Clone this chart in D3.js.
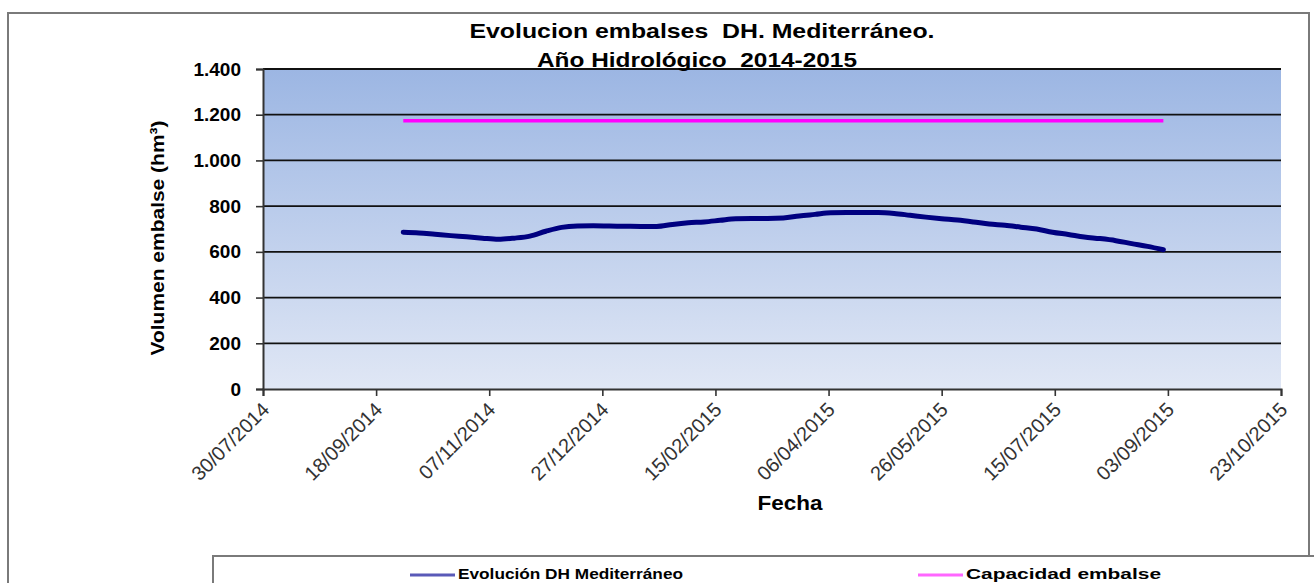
<!DOCTYPE html>
<html>
<head>
<meta charset="utf-8">
<script src="https://cdn.jsdelivr.net/npm/d3@7"></script>
<style>
  body { margin: 0; background: #fff; }
  svg { display: block; font-family: 'Liberation Sans', Arial, sans-serif; }
</style>
</head>
<body>
<svg id="chart" width="1314" height="583"></svg>
<script>
// weekly reservoir volume (hm3), hydrological year 2014-2015
let fechas = ['30/09/2014', '07/10/2014', '14/10/2014', '21/10/2014', '28/10/2014', '04/11/2014',
    '11/11/2014', '18/11/2014', '25/11/2014', '02/12/2014', '09/12/2014', '16/12/2014', '23/12/2014',
    '30/12/2014', '06/01/2015', '13/01/2015', '20/01/2015', '27/01/2015', '03/02/2015', '10/02/2015',
    '17/02/2015', '24/02/2015', '03/03/2015', '10/03/2015', '17/03/2015', '24/03/2015', '31/03/2015',
    '07/04/2015', '14/04/2015', '21/04/2015', '28/04/2015', '05/05/2015', '12/05/2015', '19/05/2015',
    '26/05/2015', '02/06/2015', '09/06/2015', '16/06/2015', '23/06/2015', '30/06/2015', '07/07/2015',
    '14/07/2015', '21/07/2015', '28/07/2015', '04/08/2015', '11/08/2015', '18/08/2015', '25/08/2015',
    '01/09/2015']
let volumen = [686, 683, 677, 671, 666, 660,
    655, 660, 669, 690, 707, 713, 714,
    713, 712, 711, 711, 720, 727, 731,
    738, 745, 746, 746, 748, 757, 764,
    771, 772, 772, 772, 768, 760, 752,
    745, 739, 731, 722, 716, 708, 700,
    686, 676, 665, 658, 649, 636, 624,
    609]
let capacidad = [1174, 1174]
let capacidadFechas = ['30/09/2014', '01/09/2015']

let xTicks = ['30/07/2014', '18/09/2014', '07/11/2014', '27/12/2014', '15/02/2015',
    '06/04/2015', '26/05/2015', '15/07/2015', '03/09/2015', '23/10/2015']
let yTicks = [0, 200, 400, 600, 800, 1000, 1200, 1400]

let parse = d3.timeParse('%d/%m/%Y')
let fmt = d3.formatLocale({ decimal: ',', thousands: '.', grouping: [3], currency: ['', ''] }).format(',d')

let chart = d3.select('#chart')
let plotLeft = 263
let plotRight = 1281
let plotTop = 69
let plotBottom = 389

let xScale = d3.scaleTime()
    .domain([parse(xTicks[0]), parse(xTicks[xTicks.length - 1])])
    .range([plotLeft, plotRight])
let yScale = d3.scaleLinear()
    .domain([0, 1400])
    .range([plotBottom, plotTop])

// outer frame
chart.append('rect')
    .attr('x', 8).attr('y', 13)
    .attr('width', 1301).attr('height', 600)
    .attr('fill', 'none')
    .attr('stroke', '#7a7a7a')
    .attr('stroke-width', 2)

// plot background gradient
let grad = chart.append('defs').append('linearGradient')
    .attr('id', 'bg')
    .attr('x1', 0).attr('y1', 0).attr('x2', 0).attr('y2', 1)
grad.append('stop').attr('offset', '0%').attr('stop-color', '#9cb6e3')
grad.append('stop').attr('offset', '100%').attr('stop-color', '#e0e7f5')

chart.append('rect')
    .attr('x', plotLeft).attr('y', plotTop)
    .attr('width', plotRight - plotLeft).attr('height', plotBottom - plotTop)
    .attr('fill', 'url(#bg)')

// gridlines
chart.append('g')
    .selectAll('line')
    .data(yTicks.slice(1))
    .enter()
    .append('line')
    .attr('x1', plotLeft).attr('x2', plotRight)
    .attr('y1', (d) => yScale(d)).attr('y2', (d) => yScale(d))
    .attr('stroke', '#111')
    .attr('stroke-width', 1.8)

// y axis
let axisLeft = d3.axisLeft(yScale)
    .tickValues(yTicks)
    .tickFormat(fmt)
    .tickSize(7)
    .tickPadding(15)
chart.append('g')
    .attr('transform', 'translate(' + plotLeft + ',0)')
    .call(axisLeft)
    .call((g) => g.select('.domain').attr('stroke', '#333').attr('stroke-width', 2))
    .call((g) => g.selectAll('.tick line').attr('stroke', '#333').attr('stroke-width', 1.6))
    .call((g) => g.selectAll('.tick text')
        .attr('font-size', 19)
        .attr('font-weight', 'bold')
        .attr('font-family', "'Liberation Sans', Arial, sans-serif")
        .attr('fill', '#000'))

// x axis
let axisBottom = d3.axisBottom(xScale)
    .tickValues(xTicks.map(parse))
    .tickFormat(d3.timeFormat('%d/%m/%Y'))
    .tickSize(7)
chart.append('g')
    .attr('transform', 'translate(0,' + plotBottom + ')')
    .call(axisBottom)
    .call((g) => g.select('.domain').attr('stroke', '#333').attr('stroke-width', 2))
    .call((g) => g.selectAll('.tick line').attr('stroke', '#333').attr('stroke-width', 1.6))
    .call((g) => g.selectAll('.tick text')
        .attr('font-size', 20)
        .attr('font-family', "'Liberation Sans', Arial, sans-serif")
        .attr('fill', '#333')
        .attr('text-anchor', 'end')
        .attr('dy', null)
        .attr('y', 0)
        .attr('transform', 'translate(7,22) rotate(-45)'))

// capacity line
let line = d3.line()
    .x((d) => xScale(d.fecha))
    .y((d) => yScale(d.valor))
    .curve(d3.curveMonotoneX)

chart.append('path')
    .datum(capacidadFechas.map((f, i) => ({ fecha: parse(f), valor: capacidad[i] })))
    .attr('d', line)
    .attr('fill', 'none')
    .attr('stroke', '#ff00ff')
    .attr('stroke-width', 3.5)

// volume line
chart.append('path')
    .datum(fechas.map((f, i) => ({ fecha: parse(f), valor: volumen[i] })))
    .attr('d', line)
    .attr('fill', 'none')
    .attr('stroke', '#000080')
    .attr('stroke-width', 5)
    .attr('stroke-linecap', 'round')

// titles
let bold = (sel) => sel.attr('font-weight', 'bold').attr('text-anchor', 'middle').attr('fill', '#000')
    .style('white-space', 'pre')
chart.append('text').call(bold)
    .attr('x', 702).attr('y', 38)
    .attr('font-size', 21)
    .attr('textLength', 465).attr('lengthAdjust', 'spacingAndGlyphs')
    .text('Evolucion embalses  DH. Mediterráneo.')
chart.append('text').call(bold)
    .attr('x', 697).attr('y', 67)
    .attr('font-size', 21)
    .attr('textLength', 320).attr('lengthAdjust', 'spacingAndGlyphs')
    .text('Año Hidrológico  2014-2015')
chart.append('text').call(bold)
    .attr('transform', 'translate(164,238) rotate(-90)')
    .attr('font-size', 19)
    .attr('textLength', 235).attr('lengthAdjust', 'spacingAndGlyphs')
    .text('Volumen embalse (hm³)')
chart.append('text').call(bold)
    .attr('x', 790).attr('y', 510)
    .attr('font-size', 20)
    .attr('textLength', 65).attr('lengthAdjust', 'spacingAndGlyphs')
    .text('Fecha')

// legend
let legend = chart.append('g')
legend.append('rect')
    .attr('x', 213).attr('y', 556)
    .attr('width', 1110).attr('height', 60)
    .attr('fill', '#fff')
    .attr('stroke', '#7a7a7a')
    .attr('stroke-width', 2)

let legendItems = [
    { name: 'Evolución DH Mediterráneo', color: '#5a5ab8', x: 410, w: 225 },
    { name: 'Capacidad embalse', color: '#ff66ff', x: 918, w: 195 }
]
legend.selectAll('.item')
    .data(legendItems)
    .enter()
    .append('g')
    .attr('class', 'item')
    .each(function (d) {
        let g = d3.select(this)
        g.append('line')
            .attr('x1', d.x).attr('x2', d.x + 45)
            .attr('y1', 575).attr('y2', 575)
            .attr('stroke', d.color)
            .attr('stroke-width', 3)
        g.append('text')
            .attr('x', d.x + 48).attr('y', 579)
            .attr('font-size', 15)
            .attr('font-weight', 'bold')
            .attr('textLength', d.w).attr('lengthAdjust', 'spacingAndGlyphs')
            .text(d.name)
    })
</script>
</body>
</html>
